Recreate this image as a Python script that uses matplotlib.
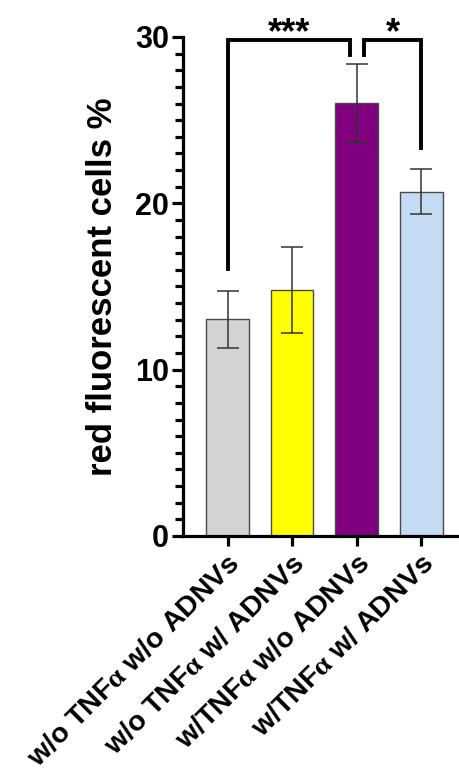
import numpy as np
import matplotlib
matplotlib.use("Agg")
import matplotlib.pyplot as plt
import matplotlib.transforms as mtransforms
from matplotlib.ticker import MultipleLocator

plt.rcParams['font.family'] = ['Liberation Sans', 'DejaVu Sans']
plt.rcParams['font.weight'] = 'bold'
# upright serif alpha like the original
plt.rcParams['mathtext.fontset'] = 'custom'
plt.rcParams['mathtext.rm'] = 'Liberation Serif'

# data
groups = [r'w/o TNF$\mathrm{α}$ w/o ADNVs', r'w/o TNF$\mathrm{α}$ w/ ADNVs',
          r'w/TNF$\mathrm{α}$ w/o ADNVs', r'w/TNF$\mathrm{α}$ w/ ADNVs']
means = [13.05, 14.8, 26.05, 20.7]
err_low = [1.75, 2.6, 2.45, 1.35]
err_high = [1.7, 2.6, 2.35, 1.35]
colors = ['#d3d3d3', '#ffff00', '#800080', '#c5dbf4']

# significance brackets: (left bar, right bar, left leg bottom, right leg bottom, top, label)
brackets = [(0, 2, 16.05, 28.9, 29.8, '***'),
            (2, 3, 28.9, 23.3, 29.8, '*')]


def main():
    fig = plt.figure(figsize=(4.6, 7.75), dpi=100)
    ax = fig.add_axes([0.398, 0.3084, 0.602, 0.6439])

    x = np.arange(len(means))
    ax.bar(x, means, width=0.66, color=colors, edgecolor='#4a4a4a', linewidth=1.0, zorder=2)
    ax.errorbar(x, means, yerr=[err_low, err_high], fmt='none', ecolor='#333333',
                elinewidth=1.1, capsize=8, capthick=1.1, zorder=3)

    # brackets, with a small gap next to the middle bar
    gap = 0.11
    for i, (a, b, ya, yb, top, lab) in enumerate(brackets):
        xa = a + (gap if i == 1 else 0)
        xb = b - (gap if i == 0 else 0)
        ax.plot([xa, xa, xb, xb], [ya, top, top, yb], color='black', lw=2.8,
                solid_joinstyle='miter', clip_on=False, zorder=4)
        ax.text((xa + xb) / 2, top - 0.15, lab, ha='center', va='baseline',
                fontsize=26, fontweight='bold')

    ax.set_ylim(0, 30)
    ax.set_xlim(-0.69, 3.6)
    ax.yaxis.set_major_locator(MultipleLocator(10))
    ax.yaxis.set_minor_locator(MultipleLocator(1))
    ax.set_xticks(x)
    ax.set_xticklabels(groups, rotation=45, ha='right', rotation_mode='anchor',
                       fontsize=20.5, fontweight='bold')
    shift = mtransforms.ScaledTranslation(-6 / 100, -2 / 100, fig.dpi_scale_trans)
    for lbl in ax.get_xticklabels():
        lbl.set_transform(lbl.get_transform() + shift)
    ax.tick_params(axis='y', which='major', length=8, width=2.3, labelsize=22, pad=2)
    ax.tick_params(axis='y', which='minor', length=5.5, width=2.3)
    ax.tick_params(axis='x', which='major', length=7.5, width=2.3, pad=3)
    ax.set_ylabel('red fluorescent cells %', fontsize=25, fontweight='bold', labelpad=12)

    for s in ['top', 'right']:
        ax.spines[s].set_visible(False)
    for s in ['left', 'bottom']:
        ax.spines[s].set_linewidth(2.3)

    fig.savefig('out.png', dpi=100)


if __name__ == "__main__":
    main()
